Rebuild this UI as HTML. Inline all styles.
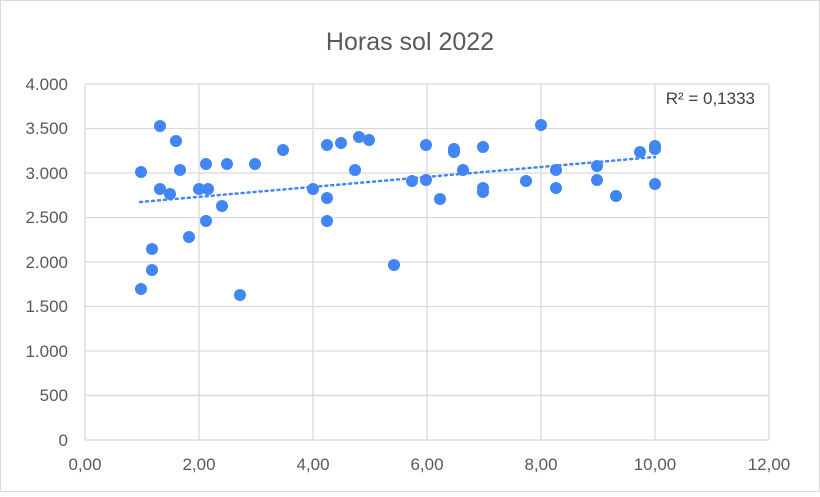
<!DOCTYPE html>
<html><head><meta charset="utf-8"><style>
html,body{margin:0;padding:0;background:#fff}
</style></head><body>
<svg width="820" height="492" viewBox="0 0 820 492" xmlns="http://www.w3.org/2000/svg" font-family="Liberation Sans, sans-serif">
<rect x="0.5" y="0.5" width="819" height="491" fill="#fff" stroke="#d9d9d9"/>
<text x="410" y="50" font-size="25" fill="#595959" text-anchor="middle">Horas sol 2022</text>
<g stroke="#d9d9d9" stroke-width="1.3" fill="none">
<line x1="85" y1="84" x2="769" y2="84"/><line x1="85" y1="128.5" x2="769" y2="128.5"/>
<line x1="85" y1="173" x2="769" y2="173"/><line x1="85" y1="217.5" x2="769" y2="217.5"/>
<line x1="85" y1="262" x2="769" y2="262"/><line x1="85" y1="306.5" x2="769" y2="306.5"/>
<line x1="85" y1="351" x2="769" y2="351"/><line x1="85" y1="395.5" x2="769" y2="395.5"/>
<line x1="85" y1="440" x2="769" y2="440"/>
<line x1="85" y1="84" x2="85" y2="440"/><line x1="199" y1="84" x2="199" y2="440"/>
<line x1="313" y1="84" x2="313" y2="440"/><line x1="427" y1="84" x2="427" y2="440"/>
<line x1="541" y1="84" x2="541" y2="440"/><line x1="655" y1="84" x2="655" y2="440"/>
<line x1="769" y1="84" x2="769" y2="440"/>
</g>
<g font-size="17" fill="#595959" text-anchor="end">
<text x="68" y="90">4.000</text><text x="68" y="134">3.500</text><text x="68" y="179">3.000</text>
<text x="68" y="223">2.500</text><text x="68" y="268">2.000</text><text x="68" y="312">1.500</text>
<text x="68" y="357">1.000</text><text x="68" y="401">500</text><text x="68" y="446">0</text>
</g>
<g font-size="17" fill="#595959" text-anchor="middle">
<text x="85" y="470">0,00</text><text x="199" y="470">2,00</text><text x="313" y="470">4,00</text>
<text x="427" y="470">6,00</text><text x="541" y="470">8,00</text><text x="655" y="470">10,00</text>
<text x="769" y="470">12,00</text>
</g>
<text x="755" y="104" font-size="17" fill="#404040" text-anchor="end">R² = 0,1333</text>
<g fill="#4285f4">
<circle cx="141" cy="172" r="6"/><circle cx="160" cy="126" r="6"/><circle cx="160" cy="189" r="6"/>
<circle cx="170" cy="194" r="6"/><circle cx="176" cy="141" r="6"/><circle cx="180" cy="170" r="6"/>
<circle cx="152" cy="249" r="6"/><circle cx="152" cy="270" r="6"/><circle cx="141" cy="289" r="6"/>
<circle cx="189" cy="237" r="6"/><circle cx="199" cy="189" r="6"/><circle cx="208" cy="189" r="6"/>
<circle cx="206" cy="164" r="6"/><circle cx="227" cy="164" r="6"/><circle cx="255" cy="164" r="6"/>
<circle cx="206" cy="221" r="6"/><circle cx="222" cy="206" r="6"/><circle cx="283" cy="150" r="6"/>
<circle cx="240" cy="295" r="6"/><circle cx="313" cy="189" r="6"/><circle cx="327" cy="145" r="6"/>
<circle cx="327" cy="198" r="6"/><circle cx="327" cy="221" r="6"/><circle cx="341" cy="143" r="6"/>
<circle cx="359" cy="137" r="6"/><circle cx="369" cy="140" r="6"/><circle cx="355" cy="170" r="6"/>
<circle cx="394" cy="265" r="6"/><circle cx="412" cy="181" r="6"/><circle cx="426" cy="180" r="6"/>
<circle cx="426" cy="145" r="6"/><circle cx="440" cy="199" r="6"/><circle cx="454" cy="149" r="6"/>
<circle cx="454" cy="152" r="6"/><circle cx="463" cy="170" r="6"/><circle cx="483" cy="147" r="6"/>
<circle cx="483" cy="188" r="6"/><circle cx="483" cy="192" r="6"/><circle cx="526" cy="181" r="6"/>
<circle cx="541" cy="125" r="6"/><circle cx="556" cy="170" r="6"/><circle cx="556" cy="188" r="6"/>
<circle cx="597" cy="166" r="6"/><circle cx="597" cy="180" r="6"/><circle cx="616" cy="196" r="6"/>
<circle cx="640" cy="152" r="6"/><circle cx="655" cy="146" r="6"/><circle cx="655" cy="149" r="6"/>
<circle cx="655" cy="184" r="6"/>
</g>
<line x1="140" y1="202" x2="655" y2="157" stroke="#4285f4" stroke-width="2.5" stroke-dasharray="2 4" stroke-linecap="round"/>
</svg>
</body></html>
